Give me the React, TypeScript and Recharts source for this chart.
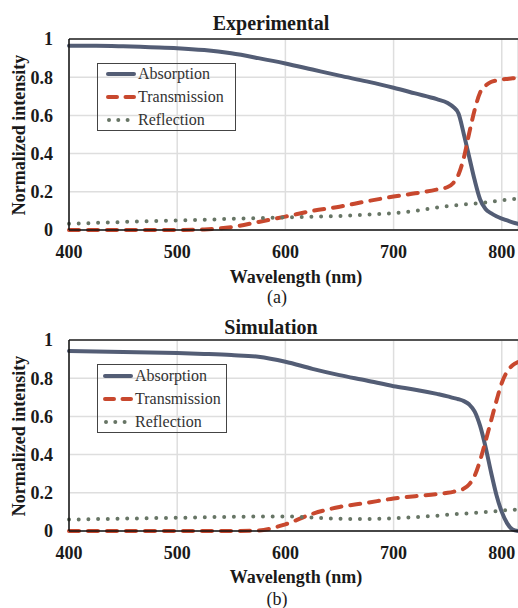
import { CartesianGrid, Legend, Line, LineChart, ReferenceLine, XAxis, YAxis } from "recharts"

const wavelengths = [400, 425, 450, 475, 500, 525, 550, 575, 600, 625, 650, 675, 700, 720, 740, 750, 755, 760, 765, 770, 775, 780, 785, 790, 795, 800, 805, 810, 815]

const expAbsorption = [0.965, 0.965, 0.962, 0.957, 0.952, 0.942, 0.925, 0.9, 0.872, 0.84, 0.808, 0.778, 0.745, 0.715, 0.685, 0.665, 0.645, 0.61, 0.5, 0.38, 0.26, 0.16, 0.11, 0.088, 0.072, 0.06, 0.05, 0.04, 0.032]
const expTransmission = [0, 0, 0, 0, 0, 0.003, 0.015, 0.042, 0.07, 0.1, 0.122, 0.15, 0.175, 0.192, 0.212, 0.225, 0.245, 0.29, 0.38, 0.51, 0.63, 0.72, 0.755, 0.775, 0.783, 0.788, 0.791, 0.794, 0.796]
const expReflection = [0.033, 0.037, 0.042, 0.046, 0.05, 0.054, 0.058, 0.062, 0.066, 0.07, 0.073, 0.08, 0.088, 0.1, 0.117, 0.125, 0.128, 0.131, 0.134, 0.136, 0.138, 0.141, 0.144, 0.148, 0.152, 0.155, 0.158, 0.162, 0.165]

const simAbsorption = [0.942, 0.94, 0.937, 0.935, 0.932, 0.927, 0.921, 0.912, 0.886, 0.849, 0.816, 0.788, 0.758, 0.74, 0.718, 0.705, 0.697, 0.69, 0.68, 0.662, 0.625, 0.55, 0.44, 0.31, 0.19, 0.1, 0.04, 0.008, 0]
const simTransmission = [0, 0, 0, 0, 0, 0, 0, 0.003, 0.035, 0.09, 0.126, 0.147, 0.17, 0.182, 0.193, 0.2, 0.205, 0.212, 0.222, 0.245, 0.29, 0.37, 0.47, 0.575, 0.68, 0.775, 0.835, 0.868, 0.885]
const simReflection = [0.06, 0.062, 0.065, 0.067, 0.069, 0.072, 0.074, 0.076, 0.076, 0.07, 0.064, 0.063, 0.067, 0.073, 0.08, 0.085, 0.087, 0.089, 0.091, 0.093, 0.095, 0.098, 0.1, 0.102, 0.104, 0.107, 0.109, 0.111, 0.113]

const xTicks = [400, 500, 600, 700, 800]
const yTicks = [0, 0.2, 0.4, 0.6, 0.8, 1]
const seriesNames = ["Absorption", "Transmission", "Reflection"]

const serif = "Liberation Serif, DejaVu Serif, serif"
const ink = "#1a1a1a"

const lineStyle: Record<string, { stroke: string; dash?: string; legendDash?: string }> = {
  Absorption: { stroke: "#535d75" },
  Transmission: { stroke: "#c8482e", dash: "10 9", legendDash: "9 8.5" },
  Reflection: { stroke: "#677565", dash: "0 9.7", legendDash: "0 9.3" },
}

function buildRows(a: number[], t: number[], r: number[]) {
  return wavelengths.map((wl, i) => ({ wl, Absorption: a[i], Transmission: t[i], Reflection: r[i] }))
}

function LegendBox({ sampleLeft, rowTops }: { sampleLeft: number; rowTops: number[] }) {
  return (
    <div style={{ position: "relative", width: "100%", height: "100%", border: "1.5px solid #444", boxSizing: "border-box", fontFamily: serif, fontSize: 16, color: "#333" }}>
      {seriesNames.map((name, i) => {
        const s = lineStyle[name]
        return (
          <div key={name} style={{ position: "absolute", left: sampleLeft - 1.5, top: rowTops[i] - 11.5, height: 20, display: "flex", alignItems: "center", whiteSpace: "nowrap" }}>
            <svg width={30} height={8} style={{ display: "block" }}>
              <line x1={name === "Reflection" ? 3 : 2} y1={4} x2={name === "Reflection" ? 24 : 28} y2={4} stroke={s.stroke} strokeWidth={4}
                strokeDasharray={s.legendDash} strokeLinecap="round" />
            </svg>
            <span style={{ marginLeft: 2.5, lineHeight: "20px" }}>{name}</span>
          </div>
        )
      })}
    </div>
  )
}

type PanelProps = {
  title: string
  caption: string
  rows: ReturnType<typeof buildRows>
  height: number
  titleY: number
  xTitleY: number
  captionY: number
  legendBox: { left: number; top: number; width: number; height: number }
  sampleLeft: number
  rowTops: number[]
}

function Panel(p: PanelProps) {
  return (
    <div style={{ position: "relative", width: 518, height: p.height }}>
      <LineChart width={518} height={301} data={p.rows} margin={{ top: 39, right: 0, bottom: 0, left: 0 }}>
        <CartesianGrid stroke="#dedede" strokeWidth={1.5} />
        <XAxis dataKey="wl" type="number" domain={[400, 815]} ticks={xTicks} interval={0} height={71}
          tickLine={false} tickSize={0} tickMargin={15} axisLine={{ stroke: "#111", strokeWidth: 1.5 }}
          tick={{ fill: ink, fontFamily: serif, fontSize: 18, fontWeight: "bold" }} />
        <YAxis type="number" domain={[0, 1]} ticks={yTicks} interval={0} width={69}
          tickLine={false} tickSize={0} tickMargin={16} axisLine={{ stroke: "#111", strokeWidth: 1.5 }}
          tick={{ fill: ink, fontFamily: serif, fontSize: 18, fontWeight: "bold" }} />
        <ReferenceLine y={1} stroke="#222" strokeWidth={1.5} />
        {seriesNames.map((name) => (
          <Line key={name} type="monotone" dataKey={name} stroke={lineStyle[name].stroke} strokeWidth={4}
            strokeDasharray={lineStyle[name].dash} strokeLinecap="round" dot={false} activeDot={false}
            isAnimationActive={false} />
        ))}
        <Legend layout="vertical" align="center" verticalAlign="middle"
          wrapperStyle={{ position: "absolute", left: p.legendBox.left, top: p.legendBox.top, width: p.legendBox.width, height: p.legendBox.height }}
          content={() => <LegendBox sampleLeft={p.sampleLeft} rowTops={p.rowTops} />} />
      </LineChart>
      <div style={{ position: "absolute", left: 271, top: p.titleY, transform: "translate(-50%, -50%)", fontFamily: serif, fontSize: 20, fontWeight: "bold", color: ink, whiteSpace: "nowrap", lineHeight: 1 }}>
        {p.title}
      </div>
      <div style={{ position: "absolute", left: 18.5, top: 135, transform: "translate(-50%, -50%) rotate(-90deg)", fontFamily: serif, fontSize: 18, fontWeight: "bold", color: ink, whiteSpace: "nowrap", lineHeight: 1 }}>
        Normalized intensity
      </div>
      <div style={{ position: "absolute", left: 296, top: p.xTitleY, transform: "translate(-50%, -50%)", fontFamily: serif, fontSize: 18, fontWeight: "bold", color: ink, whiteSpace: "nowrap", lineHeight: 1 }}>
        Wavelength (nm)
      </div>
      <div style={{ position: "absolute", left: 277, top: p.captionY, transform: "translate(-50%, -50%)", fontFamily: serif, fontSize: 18, color: ink, whiteSpace: "nowrap", lineHeight: 1 }}>
        {p.caption}
      </div>
    </div>
  )
}

export default function App() {
  return (
    <div style={{ position: "absolute", left: 0, top: 0, width: 518, height: 608, background: "#fff", overflow: "hidden" }}>
      <Panel title="Experimental" caption="(a)" rows={buildRows(expAbsorption, expTransmission, expReflection)} height={301}
        titleY={23} xTitleY={277} captionY={297}
        legendBox={{ left: 97, top: 63, width: 139, height: 68 }} sampleLeft={9} rowTops={[11.3, 34.3, 57]} />
      <Panel title="Simulation" caption="(b)" rows={buildRows(simAbsorption, simTransmission, simReflection)} height={307}
        titleY={26} xTitleY={276} captionY={298}
        legendBox={{ left: 97, top: 63, width: 130, height: 69 }} sampleLeft={6} rowTops={[12.3, 35, 58]} />
    </div>
  )
}
